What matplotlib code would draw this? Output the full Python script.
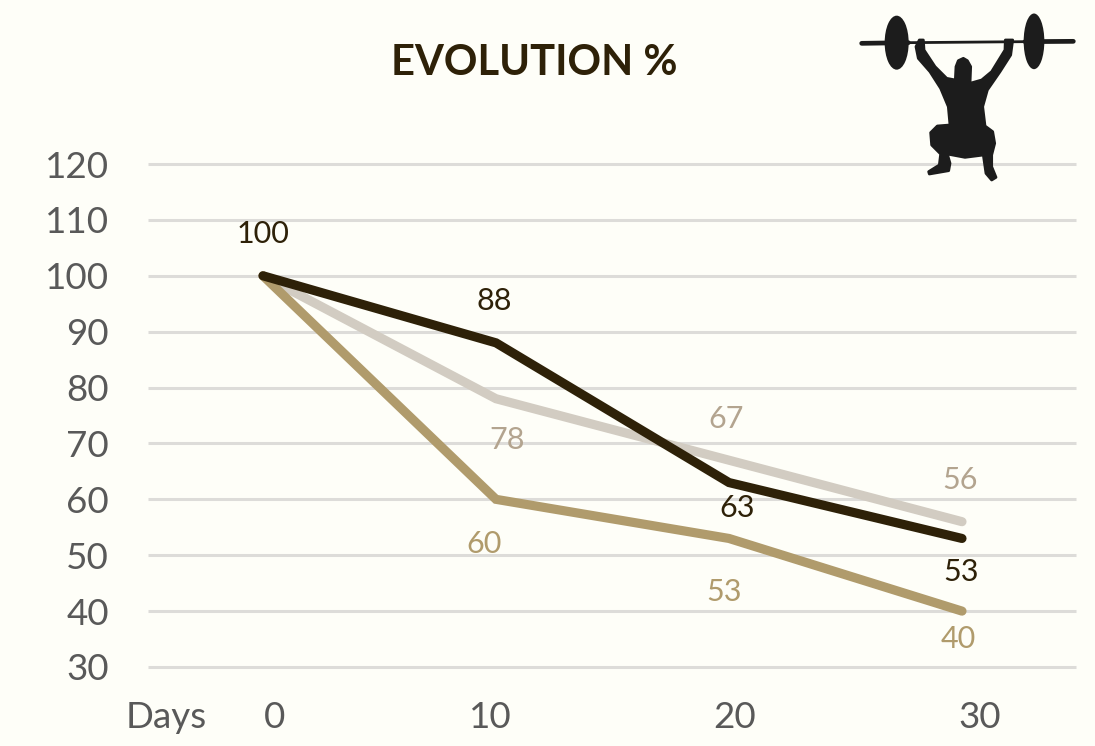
import matplotlib
matplotlib.use('Agg')
import matplotlib.pyplot as plt
from matplotlib.patches import Ellipse, Polygon

days = [0, 10, 20, 30]
dark_values = [100, 88, 63, 53]
light_values = [100, 78, 67, 56]
tan_values = [100, 60, 53, 40]
y_ticks = [30, 40, 50, 60, 70, 80, 90, 100, 110, 120]
x_tick_labels = ['0', '10', '20', '30']

BG = '#FEFEF8'
DARK = '#2E2108'
LIGHT = '#D2CCC2'
TAN = '#B09B6C'
W, H = 1095, 746

plt.rcParams['font.family'] = ['Lato', 'DejaVu Sans']

fig = plt.figure(figsize=(W / 100, H / 100), dpi=100, facecolor=BG)


def px_x(v):
    return v / W


def px_y(v):
    return 1 - v / H


# gridlines run 148..1076 px, y=120 at 164 px and y=30 at 667 px
ax = fig.add_axes([px_x(148), px_y(667), (1076 - 148) / W, (667 - 164) / H])
ax.set_facecolor(BG)
ax.patch.set_alpha(0)
ax.set_xlim((148 - 263) / 23.3, (1076 - 263) / 23.3)
ax.set_ylim(30, 120)
ax.set_yticks(y_ticks)
ax.set_xticks([])
ax.grid(axis='y', color='#DDDCD9', linewidth=2.2)
ax.set_axisbelow(True)
for s in ax.spines.values():
    s.set_visible(False)
ax.tick_params(axis='y', length=0, pad=28, labelsize=26.5, labelcolor='#595959')
for line in ax.get_ygridlines():
    line.set_clip_on(False)
    line.set_solid_capstyle('butt')

ax.plot(days, light_values, color=LIGHT, linewidth=6.6, solid_capstyle='round', solid_joinstyle='miter')
ax.plot(days, tan_values, color=TAN, linewidth=6.6, solid_capstyle='round', solid_joinstyle='miter')
ax.plot(days, dark_values, color=DARK, linewidth=6.6, solid_capstyle='round', solid_joinstyle='miter')

# data labels: offsets in pixels from their points
dark_offsets = [(0, 42), (-2, 42), (8, -25), (-1, -34)]
light_offsets = [None, (11, -41), (-3, 41), (-2, 42)]
tan_offsets = [None, (-12, -45), (-5, -54), (-4, -28)]
for vals, offs, col in [(dark_values, dark_offsets, DARK),
                        (light_values, light_offsets, '#B3A48F'),
                        (tan_values, tan_offsets, TAN)]:
    for d, v, off in zip(days, vals, offs):
        if off is None:
            continue
        ax.annotate(str(v), (d, v), xytext=off, textcoords='offset pixels', ha='center',
                    va='center', fontsize=22, color=col)

fig.text(px_x(534), px_y(63), 'EVOLUTION %', ha='center', va='center', fontsize=30,
         fontweight='bold', color=DARK)
fig.text(px_x(166), px_y(717), 'Days', ha='center', va='center', fontsize=26.5, color='#595959')
for label, xpos in zip(x_tick_labels, [275, 490, 735, 980]):
    fig.text(px_x(xpos), px_y(717), label, ha='center', va='center', fontsize=26.5, color='#595959')

# weightlifter icon, outline traced in pixels
icon = fig.add_axes([0, 0, 1, 1], zorder=5)
icon.set_xlim(0, W)
icon.set_ylim(H, 0)
icon.axis('off')
body = [(208, 120), (198, 140), (205, 175), (240, 215), (272, 265), (295, 320), (300, 375), (262, 378),
        (242, 398), (245, 435), (272, 462), (268, 495), (236, 515), (238, 522), (296, 512), (300, 490),
        (292, 462), (345, 472), (400, 465), (408, 520), (425, 540), (438, 532), (425, 500), (425, 465),
        (434, 430), (428, 395), (405, 378), (398, 320), (412, 270), (450, 215), (482, 165), (488, 120),
        (466, 120), (465, 150), (425, 215), (395, 240), (360, 250), (362, 200), (352, 182), (340, 175),
        (325, 182), (318, 200), (316, 240), (290, 235), (255, 200), (222, 150), (220, 120)]
ICON = '#1C1C1C'
icon.add_patch(Polygon([(850 + x / 3, y / 3) for x, y in body], closed=True, facecolor=ICON,
                       edgecolor=ICON, linewidth=2, joinstyle='round'))
icon.plot([850 + 35 / 3, 850 + 175 / 3], [130 / 3, 128 / 3], color=ICON, linewidth=3.4, solid_capstyle='round')
icon.plot([850 + 175 / 3, 850 + 525 / 3], [128 / 3, 125 / 3], color=ICON, linewidth=2, solid_capstyle='butt')
icon.plot([850 + 525 / 3, 850 + 670 / 3], [125 / 3, 124 / 3], color=ICON, linewidth=3.4, solid_capstyle='round')
icon.add_patch(Ellipse((850 + 140 / 3, 128 / 3), 72 / 3, 162 / 3, color=ICON, linewidth=0))
icon.add_patch(Ellipse((850 + 552 / 3, 124 / 3), 62 / 3, 167 / 3, color=ICON, linewidth=0))

fig.savefig('out.png', dpi=100, facecolor=BG)
